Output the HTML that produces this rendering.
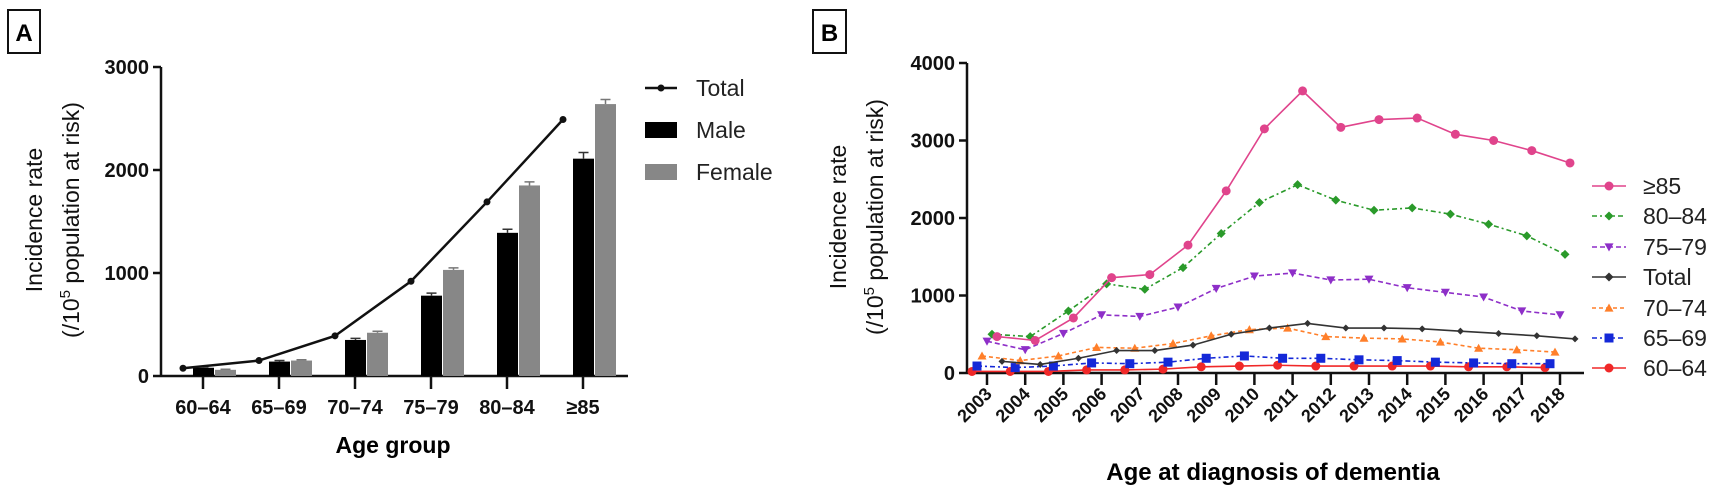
<!DOCTYPE html>
<html><head><meta charset="utf-8">
<style>
html,body{margin:0;padding:0;background:#fff;}
svg{display:block;font-family:"Liberation Sans",Arial,sans-serif;}
.tick{font-weight:bold;font-size:20px;fill:#111;}
.leg{font-size:23px;fill:#222;}
.ttl{font-size:23px;fill:#111;}
</style></head>
<body>
<svg id="chart" width="1731" height="496" viewBox="0 0 1731 496">
  <g id="panelA"></g>
  <g id="panelB"></g>
</svg>
<script>
// ---------- Panel A data ----------
const ageGroups = ["60–64","65–69","70–74","75–79","80–84","≥85"];
const maleRate = [80, 140, 350, 780, 1390, 2110];
const femaleRate = [60, 150, 420, 1030, 1850, 2640];
const totalRate = [75, 150, 390, 920, 1690, 2490];
const maleErr = [8, 10, 15, 25, 35, 60];
const femaleErr = [6, 8, 15, 20, 35, 45];
const yTicksA = [0, 1000, 2000, 3000];

// ---------- Panel B data ----------
const years = ["2003","2004","2005","2006","2007","2008","2009","2010","2011","2012","2013","2014","2015","2016","2017","2018"];
const s85 = [470,420,710,1230,1270,1650,2350,3150,3640,3170,3270,3290,3080,3000,2870,2710];
const s8084 = [500,470,800,1150,1080,1360,1800,2200,2430,2230,2100,2130,2050,1920,1770,1530];
const s7579 = [410,300,510,750,730,850,1090,1250,1290,1200,1210,1100,1040,980,800,750];
const sTotal = [150,110,190,290,290,360,500,580,640,580,580,570,540,510,480,440];
const s7074 = [220,160,220,330,320,380,480,560,580,470,450,440,400,320,300,270];
const s6569 = [90,70,90,130,120,140,190,220,190,190,170,160,140,130,120,120];
const s6064 = [20,20,20,40,40,50,80,90,100,90,90,90,90,80,80,70];
const yTicksB = [0, 1000, 2000, 3000, 4000];

const NS = "http://www.w3.org/2000/svg";
function mk(parent, tag, attrs, text){
  const e = document.createElementNS(NS, tag);
  for (const k in attrs) e.setAttribute(k, attrs[k]);
  if (text !== undefined) e.textContent = text;
  parent.appendChild(e);
  return e;
}

// ================= PANEL A =================
(function(){
  const g = document.getElementById('panelA');
  const x0 = 161, x1 = 628, y0 = 376, yTop = 67, vmax = 3000;
  const yA = v => y0 - v/vmax*(y0-yTop);
  const xA = i => 203 + i*76;

  let box = mk(g,'rect',{x:8,y:10,width:32,height:43,fill:'none',stroke:'#111','stroke-width':2});
  
  
  let bl = mk(g,'text',{x:24,y:41,'text-anchor':'middle','font-size':24,'font-weight':'bold'},'A');
  
  

  let ya = mk(g,'line',{x1:x0,y1:yTop,x2:x0,y2:y0+1,stroke:'#111','stroke-width':2.5});
  
  
  yTicksA.forEach(v=>{
    mk(g,'line',{x1:x0-8,y1:yA(v),x2:x0,y2:yA(v),stroke:'#111','stroke-width':2.5});
    let t = mk(g,'text',{x:x0-12,y:yA(v)+7,'text-anchor':'end',class:'tick'},String(v));
    
    
  });
  let xa = mk(g,'line',{x1:x0,y1:y0,x2:x1,y2:y0,stroke:'#111','stroke-width':2.5});
  
  
  ageGroups.forEach((c,i)=>{
    mk(g,'line',{x1:xA(i),y1:y0,x2:xA(i),y2:y0+13,stroke:'#111','stroke-width':2.5});
    let t = mk(g,'text',{x:xA(i),y:414,'text-anchor':'middle',class:'tick'},c);
    
    
  });
  ageGroups.forEach((c,i)=>{
    const xm = xA(i)-10, xf = xA(i)+12, w = 21;
    let bm = mk(g,'rect',{x:xm,y:yA(maleRate[i]),width:w,height:y0-yA(maleRate[i]),fill:'#000'});
    
    
    mk(g,'path',{d:`M${xm+w/2},${yA(maleRate[i])} V${yA(maleRate[i]+maleErr[i])} M${xm+w/2-5},${yA(maleRate[i]+maleErr[i])} h10`,stroke:'#333','stroke-width':1.5,fill:'none'});
    let bf = mk(g,'rect',{x:xf,y:yA(femaleRate[i]),width:w,height:y0-yA(femaleRate[i]),fill:'#878787'});
    
    
    mk(g,'path',{d:`M${xf+w/2},${yA(femaleRate[i])} V${yA(femaleRate[i]+femaleErr[i])} M${xf+w/2-5},${yA(femaleRate[i]+femaleErr[i])} h10`,stroke:'#777','stroke-width':1.5,fill:'none'});
  });
  let pts = totalRate.map((v,i)=>`${xA(i)-20},${yA(v)}`).join(' ');
  let tl = mk(g,'polyline',{points:pts,fill:'none',stroke:'#111','stroke-width':2.5});
  
  
  totalRate.forEach((v,i)=>{
    let p = mk(g,'circle',{cx:xA(i)-20,cy:yA(v),r:3.5,fill:'#111'});
    
    
  });
  let yt = mk(g,'text',{x:0,y:0,'text-anchor':'middle',class:'ttl',transform:'translate(42,220) rotate(-90)'},'Incidence rate');
  
  
  let yt2 = mk(g,'text',{x:0,y:0,'text-anchor':'middle',class:'ttl',transform:'translate(79,220) rotate(-90)'});
  yt2.innerHTML = '(/10<tspan dy="-9" font-size="15">5</tspan><tspan dy="9"> population at risk)</tspan>';
  
  
  let xt = mk(g,'text',{x:393,y:453,'text-anchor':'middle','font-size':23,'font-weight':'bold'},'Age group');
  
  
  let lg = mk(g,'g',{});
  
  
  mk(lg,'line',{x1:645,y1:88,x2:677,y2:88,stroke:'#111','stroke-width':2.5});
  mk(lg,'circle',{cx:661,cy:88,r:3.5,fill:'#111'});
  mk(lg,'text',{x:696,y:96,class:'leg'},'Total');
  mk(lg,'rect',{x:645,y:122,width:32,height:16,fill:'#000'});
  mk(lg,'text',{x:696,y:138,class:'leg'},'Male');
  mk(lg,'rect',{x:645,y:164,width:32,height:16,fill:'#878787'});
  mk(lg,'text',{x:696,y:180,class:'leg'},'Female');
})();

// ================= PANEL B =================
(function(){
  const g = document.getElementById('panelB');
  const x0 = 967, x1 = 1584, y0 = 373, yTop = 63, vmax = 4000;
  const yB = v => y0 - v/vmax*(y0-yTop);
  const xB = i => 987 + i*38.2;

  let box = mk(g,'rect',{x:813,y:10,width:33,height:43,fill:'none',stroke:'#111','stroke-width':2});
  
  
  let bl = mk(g,'text',{x:829.5,y:41,'text-anchor':'middle','font-size':24,'font-weight':'bold'},'B');
  
  

  let ya = mk(g,'line',{x1:x0,y1:yTop,x2:x0,y2:y0+1,stroke:'#111','stroke-width':2.5});
  
  
  yTicksB.forEach(v=>{
    mk(g,'line',{x1:x0-8,y1:yB(v),x2:x0,y2:yB(v),stroke:'#111','stroke-width':2.5});
    let t = mk(g,'text',{x:x0-12,y:yB(v)+7,'text-anchor':'end',class:'tick'},String(v));
    
    
  });
  let xa = mk(g,'line',{x1:x0,y1:y0,x2:x1,y2:y0,stroke:'#111','stroke-width':2.5});
  
  
  years.forEach((c,i)=>{
    mk(g,'line',{x1:xB(i),y1:y0,x2:xB(i),y2:y0+12,stroke:'#111','stroke-width':2.5});
    let t = mk(g,'text',{x:0,y:0,'text-anchor':'end','font-size':18,'font-weight':'bold',fill:'#111',transform:`translate(${xB(i)+6},${y0+22}) rotate(-45)`},c);
    
    
  });

  const series = [
    {name:'≥85', data:s85, color:'#e0448c', dash:'', marker:'circle', off:2},
    {name:'80–84', data:s8084, color:'#2a9a2a', dash:'5,3,2,3', marker:'diamond', off:1},
    {name:'75–79', data:s7579, color:'#8e2fc8', dash:'5,3', marker:'down', off:0},
    {name:'Total', data:sTotal, color:'#333', dash:'', marker:'diamond', off:3},
    {name:'70–74', data:s7074, color:'#ff7f2a', dash:'4,3', marker:'up', off:-1},
    {name:'65–69', data:s6569, color:'#1428d8', dash:'5,3,2,3', marker:'square', off:-2},
    {name:'60–64', data:s6064, color:'#f02828', dash:'', marker:'circle', off:-3}
  ];
  function marker(parent, type, cx, cy, color, s){
    if (type==='circle') return mk(parent,'circle',{cx:cx,cy:cy,r:s,fill:color});
    if (type==='square') return mk(parent,'rect',{x:cx-s,y:cy-s,width:2*s,height:2*s,fill:color});
    if (type==='diamond') return mk(parent,'path',{d:`M${cx},${cy-s} L${cx+s},${cy} L${cx},${cy+s} L${cx-s},${cy}Z`,fill:color});
    if (type==='up') return mk(parent,'path',{d:`M${cx},${cy-s} L${cx+s},${cy+s*0.8} L${cx-s},${cy+s*0.8}Z`,fill:color});
    return mk(parent,'path',{d:`M${cx},${cy+s} L${cx+s},${cy-s*0.8} L${cx-s},${cy-s*0.8}Z`,fill:color});
  }
  series.slice().reverse().forEach(s=>{
    const sg = mk(g,'g',{});
    
    
    const pts = s.data.map((v,i)=>`${xB(i)+s.off*5},${yB(v)}`).join(' ');
    const attrs = {points:pts,fill:'none',stroke:s.color,'stroke-width':1.6};
    if (s.dash) attrs['stroke-dasharray']=s.dash;
    mk(sg,'polyline',attrs);
    s.data.forEach((v,i)=>{
      const m = marker(sg, s.marker, xB(i)+s.off*5, yB(v), s.color, s.name==='Total'?3.5:4.5);
      
      
    });
  });
  const lgY = [186,216,247,277,308,338,368];
  const lg = mk(g,'g',{});
  
  
  series.forEach((s,k)=>{
    const it = mk(lg,'g',{});
    
    
    const a = {x1:1592,y1:lgY[k],x2:1626,y2:lgY[k],stroke:s.color,'stroke-width':1.6};
    if (s.dash) a['stroke-dasharray']=s.dash;
    mk(it,'line',a);
    marker(it, s.marker, 1609, lgY[k], s.color, 4.5);
    mk(it,'text',{x:1643,y:lgY[k]+8,class:'leg'},s.name);
  });

  let yt = mk(g,'text',{x:0,y:0,'text-anchor':'middle',class:'ttl',transform:'translate(846,217) rotate(-90)'},'Incidence rate');
  
  
  let yt2 = mk(g,'text',{x:0,y:0,'text-anchor':'middle',class:'ttl',transform:'translate(883,217) rotate(-90)'});
  yt2.innerHTML = '(/10<tspan dy="-9" font-size="15">5</tspan><tspan dy="9"> population at risk)</tspan>';
  
  
  let xt = mk(g,'text',{x:1273,y:480,'text-anchor':'middle','font-size':24,'font-weight':'bold'},'Age at diagnosis of dementia');
  
  
})();
</script>
</body></html>
